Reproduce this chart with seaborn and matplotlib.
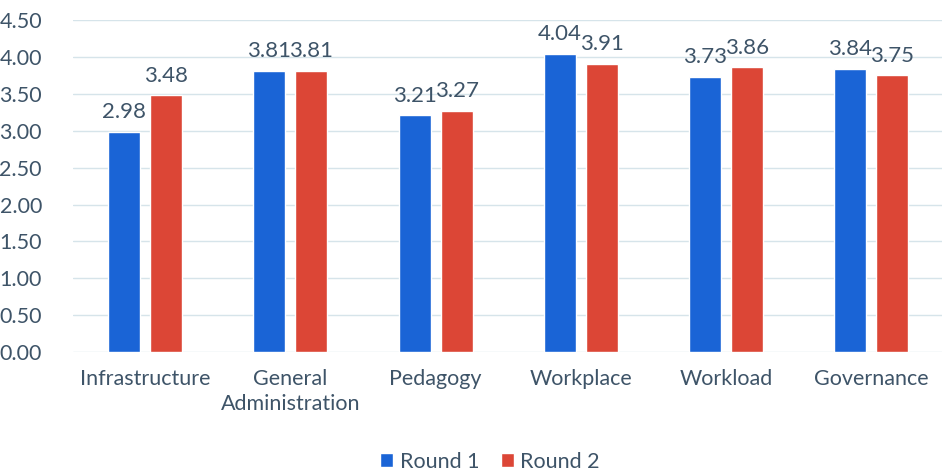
import pandas as pd
import matplotlib.pyplot as plt
import seaborn as sns

# Chart data
categories = ["Infrastructure", "General\nAdministration", "Pedagogy", "Workplace", "Workload", "Governance"]
round1 = [2.98, 3.81, 3.21, 4.04, 3.73, 3.84]
round2 = [3.48, 3.81, 3.27, 3.91, 3.86, 3.75]
series = ["Round 1", "Round 2"]

df = pd.DataFrame({
    "category": categories * 2,
    "score": round1 + round2,
    "round": [series[0]] * len(categories) + [series[1]] * len(categories),
})

sns.set_style("white")
plt.rcParams["font.family"] = ["Lato", "DejaVu Sans"]
text_color = "#3e5468"
palette = {"Round 1": "#1a64d6", "Round 2": "#dc4636"}

fig = plt.figure(figsize=(9.42, 4.76), dpi=100)
ax = fig.add_axes([0.077, 0.26, 0.925, 0.698])

sns.barplot(data=df, x="category", y="score", hue="round", palette=palette,
            width=0.58, gap=0.24, ax=ax, legend=True, saturation=1)

for container in ax.containers:
    ax.bar_label(container, fmt="%.2f", padding=7, fontsize=16, color=text_color)

ax.set_ylim(0, 4.5)
ax.set_yticks([i * 0.5 for i in range(10)])
ax.set_yticklabels([f"{i * 0.5:.2f}" for i in range(10)])
ax.yaxis.grid(True, color="#d6e4ea", linewidth=1)
ax.set_axisbelow(True)
sns.despine(ax=ax, left=True, bottom=True, top=True, right=True)
ax.tick_params(axis="both", length=0, labelsize=15.5, colors=text_color)
ax.tick_params(axis="y", pad=22)
ax.tick_params(axis="x", pad=12)
for lbl in ax.get_xticklabels():
    lbl.set_linespacing(1.3)
ax.set_xlabel("")
ax.set_ylabel("")

handles, labels = ax.get_legend_handles_labels()
ax.get_legend().remove()
fig.legend(handles, labels, loc="center", bbox_to_anchor=(0.52, 0.03), ncol=2, frameon=False,
           fontsize=15.5, handlelength=0.6, handleheight=0.6, handletextpad=0.3,
           columnspacing=1.0, labelcolor=text_color)

plt.savefig("out.png", dpi=100)
